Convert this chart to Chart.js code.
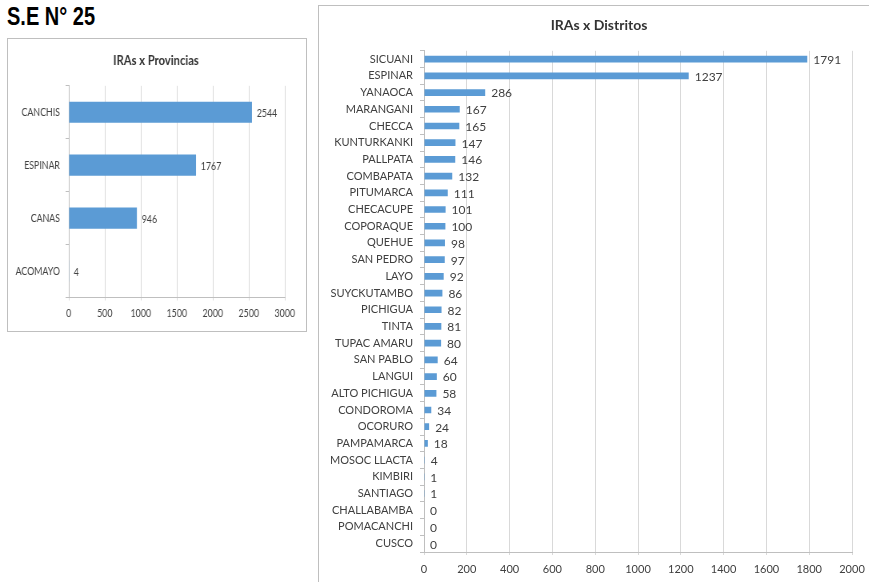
<!DOCTYPE html>
<html>
<head>
<meta charset="utf-8">
<title>IRAs S.E 25</title>
<script src="https://cdn.jsdelivr.net/npm/chart.js@4"></script>
<style>
  body { margin: 0; background: #fff; width: 869px; height: 582px; overflow: hidden; position: relative; }
  #se { position: absolute; left: 7px; top: 4px; font: bold 25px/25px "Liberation Sans", Arial, sans-serif; color: #000; white-space: nowrap; transform: scaleX(0.8); transform-origin: 0 0; }
  #boxProv { position: absolute; left: 7px; top: 38px; width: 298px; height: 292px; border: 1px solid #bfbfbf; overflow: hidden; }
  #boxProv canvas { transform: scaleX(0.8); transform-origin: 0 0; }
  #boxDist { position: absolute; left: 318px; top: 5px; width: 600px; height: 620px; border: 1px solid #bfbfbf; }
</style>
</head>
<body>
<div id="se">S.E N° 25</div>
<div id="boxProv"><canvas id="chartProv" width="373" height="292"></canvas></div>
<div id="boxDist"><canvas id="chartDist" width="560" height="576"></canvas></div>

<script>
// casos por provincia
const provincias = ["CANCHIS", "ESPINAR", "CANAS", "ACOMAYO"];
const casosProvincia = [2544, 1767, 946, 4];

// casos por distrito
const distritos = [
  "SICUANI", "ESPINAR", "YANAOCA", "MARANGANI", "CHECCA", "KUNTURKANKI",
  "PALLPATA", "COMBAPATA", "PITUMARCA", "CHECACUPE", "COPORAQUE", "QUEHUE",
  "SAN PEDRO", "LAYO", "SUYCKUTAMBO", "PICHIGUA", "TINTA", "TUPAC AMARU",
  "SAN PABLO", "LANGUI", "ALTO PICHIGUA", "CONDOROMA", "OCORURO", "PAMPAMARCA",
  "MOSOC LLACTA", "KIMBIRI", "SANTIAGO", "CHALLABAMBA", "POMACANCHI", "CUSCO"
];
const casosDistrito = [
  1791, 1237, 286, 167, 165, 147,
  146, 132, 111, 101, 100, 98,
  97, 92, 86, 82, 81, 80,
  64, 60, 58, 34, 24, 18,
  4, 1, 1, 0, 0, 0
];

const AZUL = "#5b9bd5";
const TEXTO = "#404040";
const FUENTE = "Lato, sans-serif";

// escribe el valor al final de cada barra
const etiquetas = {
  id: "etiquetas",
  afterLayout(chart) {
    // que los nombres largos no se corten en el borde del eje
    chart.scales.y.left = 0;
  },
  afterDatasetsDraw(chart, args, opts) {
    const ctx = chart.ctx;
    const vals = chart.data.datasets[0].data;
    ctx.save();
    ctx.font = `${opts.size || 12}px ${FUENTE}`;
    ctx.fillStyle = TEXTO;
    ctx.textBaseline = "middle";
    ctx.textAlign = "left";
    chart.getDatasetMeta(0).data.forEach((bar, i) => {
      ctx.fillText(vals[i], bar.x + (opts.gap || 6), bar.y + 1);
    });
    ctx.restore();
  }
};

function barras(id, labels, values, cfg) {
  return new Chart(document.getElementById(id), {
    type: "bar",
    data: {
      labels,
      datasets: [{
        data: values,
        backgroundColor: AZUL,
        borderWidth: 0,
        barPercentage: 0.4,
        categoryPercentage: 1
      }]
    },
    options: {
      indexAxis: "y",
      responsive: false,
      animation: false,
      devicePixelRatio: 1,
      layout: { padding: cfg.padding },
      plugins: {
        legend: { display: false },
        tooltip: { enabled: false },
        title: {
          display: true,
          text: cfg.titulo,
          color: "#333333",
          font: { family: FUENTE, size: 14, weight: "bold" },
          padding: cfg.tituloPad
        },
        etiquetas: { size: cfg.etiqueta, gap: 6 }
      },
      scales: {
        x: {
          min: 0,
          max: cfg.max,
          ticks: {
            stepSize: cfg.paso,
            color: TEXTO,
            font: { family: FUENTE, size: 11 },
            padding: cfg.xPad,
            callback: v => String(v)
          },
          grid: { color: "#d9d9d9", tickLength: 3, drawTicks: true },
          border: { display: true, color: "#bfbfbf" },
          afterFit: s => { s.height = cfg.altoX; }
        },
        y: {
          ticks: { color: TEXTO, font: { family: FUENTE, size: 11 }, padding: 7, autoSkip: false },
          grid: { drawOnChartArea: false, tickLength: 4, color: "#bfbfbf" },
          border: { display: true, color: "#bfbfbf" },
          afterFit: s => { s.width = cfg.anchoY; }
        }
      }
    },
    plugins: [etiquetas]
  });
}

barras("chartProv", provincias, casosProvincia, {
  titulo: "IRAs x Provincias",
  max: 3000,
  paso: 500,
  padding: { left: 24, right: 27, top: 0, bottom: 0 },
  tituloPad: { top: 13, bottom: 17 },
  anchoY: 52,
  altoX: 33.5,
  xPad: 6,
  etiqueta: 11
});

barras("chartDist", distritos, casosDistrito, {
  titulo: "IRAs x Distritos",
  max: 2000,
  paso: 200,
  padding: { left: 27, right: 27, top: 0, bottom: 0 },
  tituloPad: { top: 11, bottom: 17 },
  anchoY: 78,
  altoX: 30,
  xPad: 8,
  etiqueta: 12
});
</script>
</body>
</html>
